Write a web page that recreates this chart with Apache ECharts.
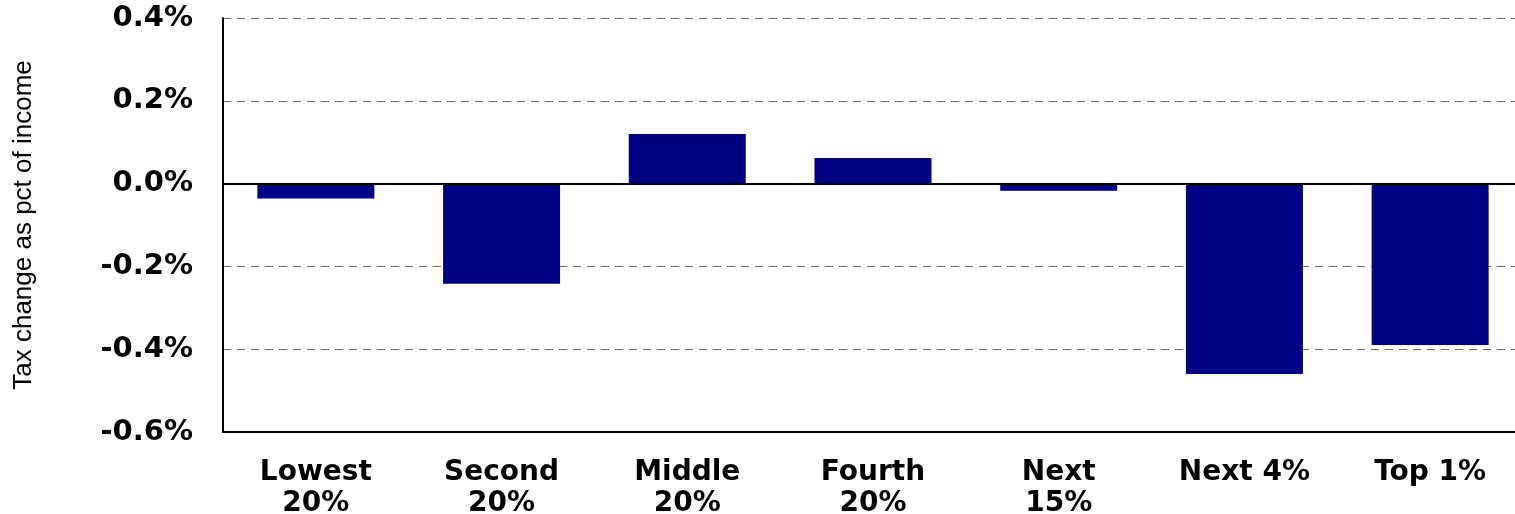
<!DOCTYPE html>
<html>
<head>
<meta charset="utf-8">
<script src="https://cdn.jsdelivr.net/npm/echarts@6/dist/echarts.min.js"></script>
<style>
    html, body { margin: 0; padding: 0; background: #fff; }
    #chart { width: 1515px; height: 514px; }
</style>
</head>
<body>
<div id="chart"></div>
<script>
// groups and tax change (pct of income)
var groups = ['Lowest\n20%', 'Second\n20%', 'Middle\n20%', 'Fourth\n20%', 'Next\n15%', 'Next 4%', 'Top 1%'];
var taxChange = [-0.036, -0.242, 0.120, 0.062, -0.017, -0.460, -0.390];
var yTicks = { min: -0.6, max: 0.4, step: 0.2 };

var chart = echarts.init(document.getElementById('chart'));

var option = {
    animation: false,
    grid: { left: 223, right: -8, top: 18, bottom: 82, outerBoundsMode: 'none' },
    xAxis: {
        type: 'category',
        data: groups,
        axisLine: { show: true, onZero: false, lineStyle: { color: '#000', width: 2 } },
        axisTick: { show: false },
        axisLabel: {
            color: '#000',
            fontFamily: 'DejaVu Sans',
            fontWeight: 'bold',
            fontSize: 28,
            lineHeight: 31,
            margin: 25,
            interval: 0
        }
    },
    yAxis: {
        type: 'value',
        min: yTicks.min,
        max: yTicks.max,
        interval: yTicks.step,
        name: 'Tax change as pct of income',
        nameLocation: 'middle',
        nameGap: 186,
        nameTextStyle: {
            color: '#000',
            fontFamily: 'Liberation Sans',
            fontSize: 26
        },
        axisLine: { show: true, lineStyle: { color: '#000', width: 2 } },
        axisTick: { show: false },
        axisLabel: {
            color: '#000',
            fontFamily: 'DejaVu Sans',
            fontWeight: 'bold',
            fontSize: 29,
            margin: 30,
            formatter: function (v) { return v.toFixed(1) + '%'; }
        },
        splitLine: {
            show: true,
            lineStyle: { color: '#666', type: [8, 6], width: 1 }
        }
    },
    series: [
        {
            type: 'bar',
            data: taxChange,
            barWidth: '63%',
            itemStyle: { color: '#000080' },
            markLine: {
                silent: true,
                symbol: 'none',
                label: { show: false },
                lineStyle: { color: '#000', type: 'solid', width: 2 },
                data: [{ yAxis: 0 }]
            }
        }
    ]
};

chart.setOption(option);
</script>
</body>
</html>
